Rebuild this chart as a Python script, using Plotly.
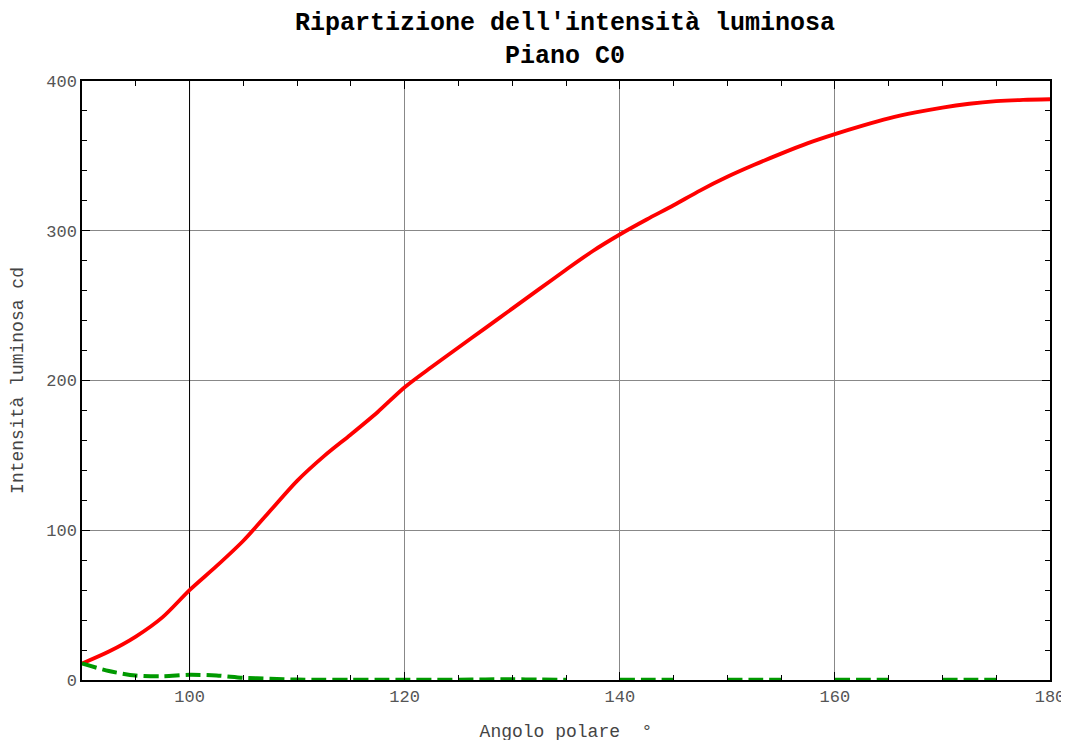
import plotly.graph_objects as go

angles = [90, 92.5, 95, 97.5, 100, 102.5, 105, 107.5, 110, 112.5, 115, 117.5, 120,
          122.5, 125, 127.5, 130, 132.5, 135, 137.5, 140, 142.5, 145, 147.5, 150,
          152.5, 155, 157.5, 160, 162.5, 165, 167.5, 170, 172.5, 175, 177.5, 180]
red_vals = [11, 19, 29, 42, 60, 76, 93, 113, 133, 149.5, 164, 179, 195.5,
            209, 222, 235, 248, 261, 274, 286.5, 297.5, 307.5, 317, 327, 336,
            344, 351.5, 358.5, 364.5, 370, 375, 379, 382.3, 384.8, 386.5, 387.4, 387.8]
green_vals = [11, 6, 3, 2.5, 3.5, 3, 1.5, 0.8, 0.3, 0.1, 0.1, 0.1, 0.1,
              0.1, 0.2, 0.4, 0.5, 0.3, 0.1, None, 0.1, 0.1, 0.1, None, 0.1,
              0.1, 0.1, None, 0.1, 0.1, 0.1, None, 0.1, 0.1, 0.1, None, None]

x_ticks = [100, 120, 140, 160, 180]
y_ticks = [0, 100, 200, 300, 400]

font = "Liberation Mono, Courier New, monospace"

# page body has an 8px margin, so the figure is offset by 8px
W, H = 1061, 734

fig = go.Figure()
fig.add_trace(go.Scatter(x=angles, y=red_vals, mode="lines",
                         line=dict(color="#ff0000", width=3.8, shape="spline", smoothing=0.8),
                         showlegend=False))
fig.add_trace(go.Scatter(x=angles, y=green_vals, mode="lines", connectgaps=False,
                         line=dict(color="#009900", width=4, dash="15px,6px", shape="spline", smoothing=0.8),
                         showlegend=False))

fig.add_shape(type="line", x0=100, x1=100, y0=0, y1=400, xref="x", yref="y",
              line=dict(color="black", width=1), layer="between")

axis_common = dict(
    showline=True, linecolor="black", linewidth=1.5, mirror="allticks",
    ticks="inside", ticklen=8, tickcolor="black", tickwidth=1,
    showgrid=True, gridcolor="#888888", gridwidth=1, zeroline=False,
    tickfont=dict(family=font, size=17, color="#555555"),
    ticklabeloverflow="allow",
    automargin=False,
)

fig.update_xaxes(range=[90, 180], tickvals=x_ticks, ticktext=[str(v) for v in x_ticks],
                 minor=dict(dtick=5, tick0=90, ticks="inside", ticklen=5, tickcolor="black", showgrid=False),
                 title=dict(text="Angolo polare\u00a0\u00a0°", font=dict(family=font, size=18, color="#444444"),
                            standoff=27),
                 **axis_common)
fig.update_yaxes(range=[0, 400], tickvals=y_ticks, ticktext=[str(v) for v in y_ticks],
                 minor=dict(dtick=20, tick0=0, ticks="inside", ticklen=5, tickcolor="black", showgrid=False),
                 title=dict(text="Intensità luminosa cd", font=dict(family=font, size=18, color="#444444"),
                            standoff=18),
                 **axis_common)

fig.update_layout(
    width=W, height=H,
    margin=dict(l=74, r=19, t=73, b=62),
    plot_bgcolor="white", paper_bgcolor="white",
    title=dict(text="<b>Ripartizione dell'intensità luminosa</b><br><b>Piano C0</b>",
               x=(565 - 8) / W, xanchor="center", xref="container",
               y=1 - 22 / H, yanchor="top", yref="container",
               automargin=False,
               font=dict(family=font, size=25, color="black")),
)

fig.write_html("out.html")
